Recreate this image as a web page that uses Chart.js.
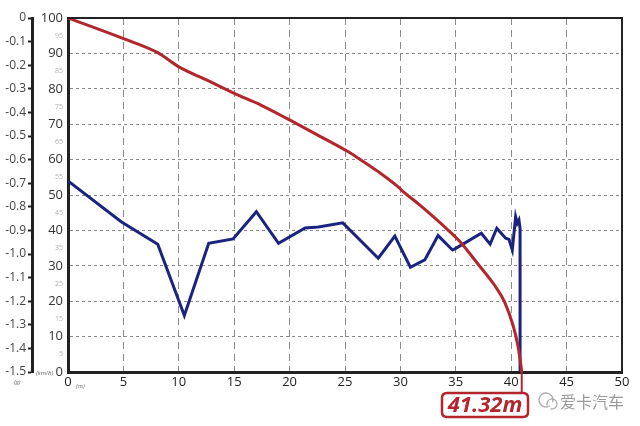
<!DOCTYPE html>
<html>
<head>
<meta charset="utf-8">
<script src="https://cdn.jsdelivr.net/npm/chart.js@4/dist/chart.umd.min.js"></script>
<style>
html,body{margin:0;padding:0;background:#fff;}
#wrap{width:640px;height:426px;}
</style>
</head>
<body>
<div id="wrap"><canvas id="c" width="640" height="426"></canvas></div>
<script>
// Speed curve (km/h) vs distance (m)
const speedDist = [0, 4.9, 8.1, 10, 12.5, 15, 17.4, 20, 22.5, 25.3, 26.2, 28, 29.8, 30.1, 32, 34.3, 35.5, 37, 38.5, 39.4, 40.2, 40.6, 40.85, 40.95];
const speedVals = [100, 94.3, 90.2, 86.2, 82.5, 78.7, 75.4, 71.2, 67, 62.2, 60.4, 56.6, 52.3, 51.4, 46.5, 40.1, 36.4, 30.5, 24.5, 19.8, 12.8, 7.5, 2.5, 0];
// Deceleration (g) vs distance (m)
const decelDist = [0, 4.8, 8.1, 10.5, 12.7, 14.9, 17.0, 19.0, 21.4, 22.6, 24.8, 28.0, 29.5, 30.9, 32.2, 33.4, 34.7, 35.0, 37.3, 38.1, 38.7, 39.5, 39.8, 40.1, 40.4, 40.55, 40.7, 40.8, 40.8];
const decelVals = [-0.69, -0.863, -0.959, -1.261, -0.955, -0.936, -0.821, -0.955, -0.89, -0.886, -0.868, -1.018, -0.924, -1.056, -1.025, -0.922, -0.983, -0.976, -0.912, -0.958, -0.891, -0.933, -0.938, -0.983, -0.842, -0.87, -0.856, -0.891, -1.5];
const stopLabel = "41.32m";
const watermark = "爱卡汽车";

Chart.defaults.font.family = "'Open Sans', 'DejaVu Sans', sans-serif";

const speedData = speedDist.map((d, i) => ({x: d, y: speedVals[i]}));
const decelData = decelDist.map((d, i) => ({x: d, y: decelVals[i]}));

const extras = {
  id: 'extras',
  afterDraw(chart) {
    const ctx = chart.ctx;
    const a = chart.chartArea;
    const xs = chart.scales.x;
    ctx.save();
    // frame top/right
    ctx.strokeStyle = '#222';
    ctx.lineWidth = 2;
    ctx.beginPath();
    ctx.moveTo(a.left, a.top);
    ctx.lineTo(a.right, a.top);
    ctx.lineTo(a.right, a.bottom);
    ctx.stroke();
    // unit labels
    ctx.fillStyle = '#666';
    ctx.font = "italic 6px 'Open Sans', sans-serif";
    ctx.textBaseline = 'middle';
    ctx.textAlign = 'left';
    ctx.fillText('(km/h)', 36, a.bottom + 1);
    ctx.fillText('(m)', a.left + 8, a.bottom + 14);
    ctx.fillText('(g)', 14, a.bottom + 10);
    // callout
    const px = xs.getPixelForValue(speedDist[speedDist.length - 1]);
    const red = '#b3262c';
    ctx.strokeStyle = red;
    ctx.lineWidth = 2;
    ctx.beginPath();
    ctx.moveTo(px, a.bottom);
    ctx.lineTo(px, 393);
    ctx.stroke();
    const bx = 442, by = 393, bw = 86, bh = 24, r = 5;
    ctx.beginPath();
    ctx.moveTo(bx + r, by);
    ctx.lineTo(bx + bw - r, by);
    ctx.quadraticCurveTo(bx + bw, by, bx + bw, by + r);
    ctx.lineTo(bx + bw, by + bh - r);
    ctx.quadraticCurveTo(bx + bw, by + bh, bx + bw - r, by + bh);
    ctx.lineTo(bx + r, by + bh);
    ctx.quadraticCurveTo(bx, by + bh, bx, by + bh - r);
    ctx.lineTo(bx, by + r);
    ctx.quadraticCurveTo(bx, by, bx + r, by);
    ctx.closePath();
    ctx.fillStyle = '#fff';
    ctx.fill();
    ctx.lineWidth = 2.5;
    ctx.stroke();
    ctx.fillStyle = red;
    ctx.font = "italic bold 22px 'Open Sans', sans-serif";
    ctx.textAlign = 'center';
    ctx.textBaseline = 'middle';
    ctx.fillText(stopLabel, bx + bw / 2, by + bh / 2 + 1);
    // watermark icon
    ctx.strokeStyle = '#aaa';
    ctx.lineWidth = 1.3;
    ctx.beginPath();
    ctx.arc(546, 400, 7, 0.3 * Math.PI, 2.1 * Math.PI);
    ctx.stroke();
    ctx.beginPath();
    ctx.arc(552, 404, 5, 0.9 * Math.PI, 2.6 * Math.PI);
    ctx.stroke();
    ctx.fillStyle = '#999';
    ctx.font = "16px 'Noto Sans CJK SC', sans-serif";
    ctx.textAlign = 'left';
    ctx.fillText(watermark, 560, 402);
    ctx.restore();
  }
};

new Chart(document.getElementById('c'), {
  type: 'line',
  data: {
    datasets: [
      {
        data: speedData,
        yAxisID: 'y',
        borderColor: '#b3262c',
        borderWidth: 3,
        pointRadius: 0,
        cubicInterpolationMode: 'monotone',
        fill: false
      },
      {
        data: decelData,
        yAxisID: 'y1',
        borderColor: '#1b2380',
        borderWidth: 3,
        pointRadius: 0,
        tension: 0,
        fill: false
      }
    ]
  },
  options: {
    responsive: false,
    animation: false,
    layout: {padding: {top: 18, right: 18, left: 0, bottom: 0}},
    plugins: {legend: {display: false}, tooltip: {enabled: false}},
    scales: {
      x: {
        type: 'linear',
        min: 0, max: 50,
        ticks: {stepSize: 5, padding: 2, color: '#222', font: {size: 13}, maxRotation: 0},
        grid: {
          drawTicks: false,
          color: (c) => (c.tick && (c.tick.value === 0 || c.tick.value === 50)) ? 'rgba(0,0,0,0)' : '#8a8a8a',
          lineWidth: 1
        },
        border: {display: true, color: '#222', width: 3, dash: [7, 5]},
        afterFit: (s) => { s.height = 54; }
      },
      y: {
        position: 'left',
        weight: 0,
        min: 0, max: 100,
        ticks: {
          stepSize: 5,
          autoSkip: false,
          padding: 5,
          color: (c) => (c.tick.value % 10 === 0) ? '#333' : '#b0b0b0',
          font: (c) => (c.tick && c.tick.value % 10 === 0) ? {size: 13} : {size: 7}
        },
        grid: {
          drawTicks: false,
          color: (c) => (c.tick && c.tick.value % 10 === 0 && c.tick.value !== 0 && c.tick.value !== 100) ? '#8a8a8a' : 'rgba(0,0,0,0)',
          lineWidth: 1
        },
        border: {display: true, color: '#222', width: 3, dash: [3, 3]},
        afterFit: (s) => { s.width = 36; }
      },
      y1: {
        position: 'left',
        weight: 10,
        min: -1.5, max: 0,
        ticks: {
          stepSize: 0.1,
          autoSkip: false,
          padding: 2,
          color: '#444',
          font: {size: 12},
          callback: (v) => Math.abs(v) < 1e-9 ? '0' : Number(v).toFixed(1)
        },
        grid: {drawOnChartArea: false, drawTicks: true, tickLength: 4, color: '#222', tickWidth: 2},
        border: {display: true, color: '#222', width: 3},
        afterFit: (s) => { s.width = 32; }
      }
    }
  },
  plugins: [extras]
});
</script>
</body>
</html>
